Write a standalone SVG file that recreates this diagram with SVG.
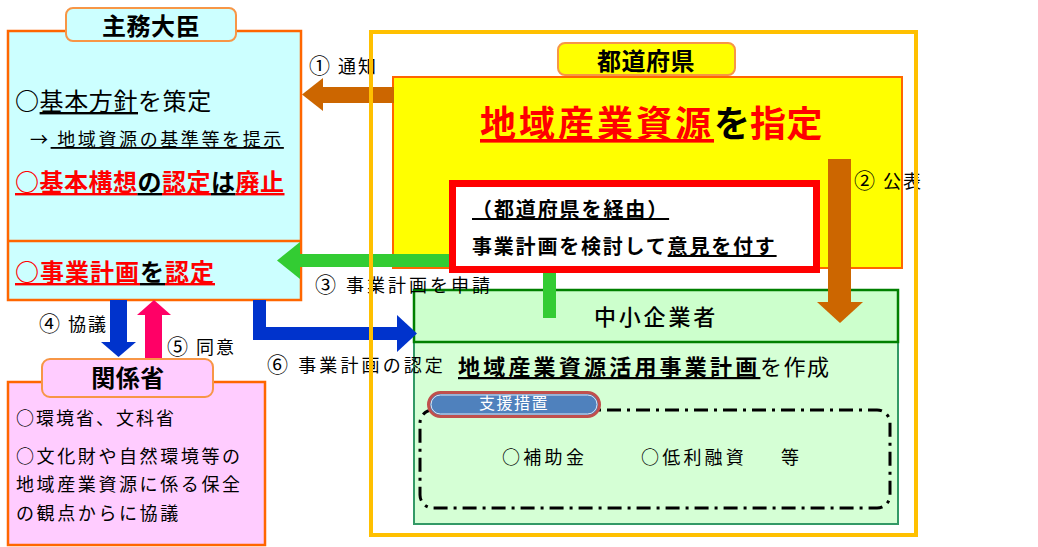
<svg xmlns="http://www.w3.org/2000/svg" width="1038" height="547" viewBox="0 0 1038 547">
<style>
text{font-family:'Noto Sans CJK JP','Noto Sans',sans-serif;fill:#000}
.b{font-weight:bold}
.u{text-decoration:underline}
.r{fill:#FF0000}
.lbl{font-size:18px;letter-spacing:2px}
.n{font-size:21px}
.tab{stroke:#F79646;stroke-width:2}
</style>
<rect width="1038" height="547" fill="#FFFFFF"/>
<g id="minister">
<rect x="8" y="31" width="293" height="269" fill="#CCFFFF" stroke="#FF6600" stroke-width="2.5"/>
<line x1="8" y1="241" x2="301" y2="241" stroke="#FF6600" stroke-width="2.5"/>
<text x="15" y="110" font-size="24" letter-spacing="0.6"><tspan class="b">○</tspan><tspan class="u">基本方針</tspan>を策定</text>
<text x="30" y="146" font-size="18" letter-spacing="2.6">→<tspan class="u"> 地域資源の基準等を提示</tspan></text>
<text x="15" y="191" font-size="24" class="b" letter-spacing="0.5"><tspan class="r u">○基本構想</tspan><tspan class="u">の</tspan><tspan class="r u">認定</tspan><tspan class="u">は</tspan><tspan class="r u">廃止</tspan></text>
<text x="15" y="281" font-size="24" class="b" letter-spacing="1"><tspan class="r u">○事業計画</tspan><tspan class="u">を</tspan><tspan class="r u">認定</tspan></text>
</g>
<g id="ministries">
<rect x="8" y="382" width="257" height="163" fill="#FFCCFF" stroke="#FF6600" stroke-width="2.5"/>
<text x="16" y="425" font-size="18" letter-spacing="2">○環境省、文科省</text>
<text x="16" y="463" font-size="18" letter-spacing="2.6">○文化財や自然環境等の</text>
<text x="16" y="491" font-size="18" letter-spacing="2.6">地域産業資源に係る保全</text>
<text x="16" y="520" font-size="18" letter-spacing="2.6">の観点からに協議</text>
</g>
<g id="prefecture">
<rect x="393" y="77" width="509" height="191" fill="#FFFF00" stroke="#FF6600" stroke-width="2"/>
<text y="137" font-size="36" class="b"><tspan x="480" class="r u" letter-spacing="3">地域産業資源</tspan><tspan x="714">を</tspan><tspan x="750" class="r" letter-spacing="0.5">指定</tspan></text>
</g>
<g id="sme">
<rect x="414" y="342" width="484" height="182" fill="#D5FFD5" stroke="#339966" stroke-width="2"/>
<rect x="414" y="290" width="484" height="52" fill="#CCFFCC" stroke="#008000" stroke-width="2.5"/>
<text x="656" y="325" font-size="22" font-weight="500" letter-spacing="2.8" text-anchor="middle">中小企業者</text>
<text y="375" font-size="22"><tspan x="458" class="b u" letter-spacing="3.2">地域産業資源活用事業計画</tspan><tspan x="760" letter-spacing="1.5">を作成</tspan></text>
<rect x="420" y="410" width="470" height="98" rx="13" fill="none" stroke="#000" stroke-width="3" stroke-dasharray="14 6 3 6"/>
<g id="support">
<rect x="428.5" y="392.5" width="171" height="24" rx="12" fill="#4F81BD" stroke="#C0504D" stroke-width="3"/>
<rect x="431" y="395" width="166" height="19" rx="9.5" fill="none" stroke="#DCE6F2" stroke-width="1"/>
<text x="514" y="409" font-size="16" letter-spacing="1.5" text-anchor="middle" style="fill:#FFFFFF">支援措置</text>
</g>
<text x="502" y="464" font-size="18" letter-spacing="3.3">○補助金</text>
<text x="641" y="464" font-size="18" letter-spacing="3.2">○低利融資</text>
<text x="781" y="464" font-size="18">等</text>
</g>
<g id="connectors">
<path d="M394 95 H322" stroke="#CC6600" stroke-width="16" fill="none"/>
<polygon points="323,78 302,94.5 323,111" fill="#CC6600"/>
<path d="M839.5 159 V303" stroke="#CC6600" stroke-width="23" fill="none"/>
<polygon points="817,302 863,302 840,323" fill="#CC6600"/>
<path d="M549.5 318 V260.5 H298" stroke="#33CC33" stroke-width="13" fill="none" stroke-linejoin="miter"/>
<polygon points="300,242 277,260.5 300,279" fill="#33CC33"/>
<path d="M118.5 300 V343" stroke="#0033CC" stroke-width="17" fill="none"/>
<polygon points="101,342 136,342 118.5,357" fill="#0033CC"/>
<path d="M153.5 358 V314" stroke="#FF0066" stroke-width="17" fill="none"/>
<polygon points="137,315 171,315 154,300" fill="#FF0066"/>
<path d="M259.5 300 V333.5 H398" stroke="#0033CC" stroke-width="13" fill="none" stroke-linejoin="miter"/>
<polygon points="397,315 417,333.5 397,352" fill="#0033CC"/>
<text x="309" y="73" class="lbl"><tspan class="n">①</tspan> 通知</text>
<text x="854" y="188" class="lbl"><tspan class="n">②</tspan> 公表</text>
<text x="315" y="292" class="lbl" style="letter-spacing:3px"><tspan class="n">③</tspan> 事業計画を申請</text>
<text x="39" y="331" class="lbl"><tspan class="n">④</tspan> 協議</text>
<text x="167" y="354" class="lbl"><tspan class="n">⑤</tspan> 同意</text>
<text x="267" y="372" class="lbl" style="letter-spacing:3.1px"><tspan class="n">⑥</tspan> 事業計画の認定</text>
</g>
<g id="review">
<rect x="452.5" y="183.5" width="364" height="86" fill="#FFFFFF" stroke="#FF0000" stroke-width="7"/>
<text x="472" y="217" font-size="20" class="b u" letter-spacing="1.9">（都道府県を経由）</text>
<text x="472" y="254" font-size="20" class="b" letter-spacing="1.8">事業計画を検討して<tspan class="u">意見を付す</tspan></text>
</g>
<g id="tabs">
<rect x="66" y="8" width="170" height="33" rx="7" fill="#CCFFFF" class="tab"/>
<text x="151" y="35" font-size="24" class="b" letter-spacing="0.5" text-anchor="middle">主務大臣</text>
<rect x="558" y="43" width="177" height="32" rx="7" fill="#FFFF00" class="tab"/>
<text x="646" y="70" font-size="24" class="b" letter-spacing="0.5" text-anchor="middle">都道府県</text>
<rect x="42" y="359" width="171" height="38" rx="8" fill="#FFCCFF" class="tab"/>
<text x="128" y="387" font-size="24" class="b" letter-spacing="0.5" text-anchor="middle">関係省</text>
</g>
<rect id="prefecture-frame" x="371" y="32" width="545" height="503" fill="none" stroke="#FFC000" stroke-width="4"/>
</svg>
